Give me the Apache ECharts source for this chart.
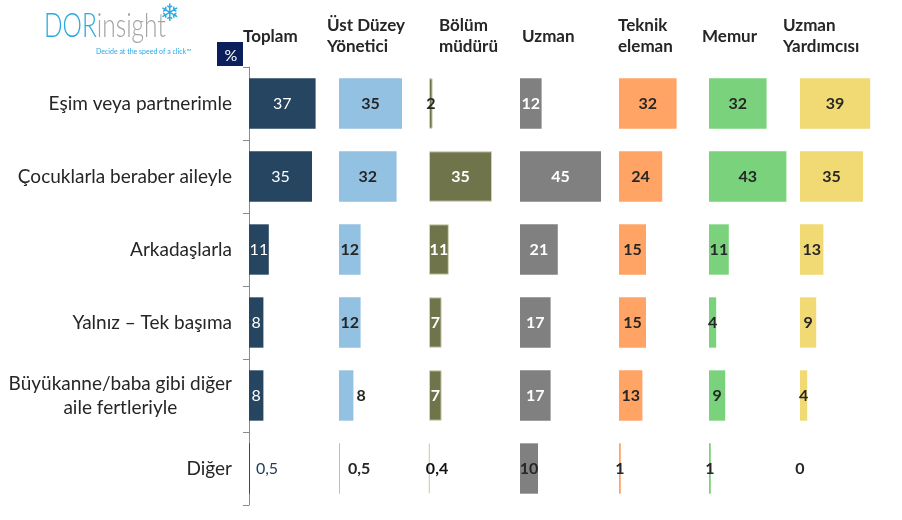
<!DOCTYPE html>
<html>
<head>
<meta charset="utf-8">
<script src="https://cdn.jsdelivr.net/npm/echarts@6/dist/echarts.min.js"></script>
<style>html,body{margin:0;padding:0;background:#fff;}#c{width:902px;height:520px;}</style>
</head>
<body>
<div id="c"></div>
<script>
// ---- data ----
const categories = ['Eşim veya partnerimle', 'Çocuklarla beraber aileyle', 'Arkadaşlarla', 'Yalnız – Tek başıma', 'Büyükanne/baba gibi diğer\naile fertleriyle', 'Diğer'];
const groups = ['Toplam', 'Üst Düzey\nYönetici', 'Bölüm\nmüdürü', 'Uzman', 'Teknik\neleman', 'Memur', 'Uzman\nYardımcısı'];
const toplam      = [37, 35, 11, 8, 8, 0.5];
const ustDuzey    = [35, 32, 12, 12, 8, 0.5];
const bolumMuduru = [2, 35, 11, 7, 7, 0.4];
const uzman       = [12, 45, 21, 17, 17, 10];
const teknik      = [32, 24, 15, 15, 13, 1];
const memur       = [32, 43, 11, 4, 9, 1];
const uzmanYrd    = [39, 35, 13, 9, 4, 0];
const values = [toplam, ustDuzey, bolumMuduru, uzman, teknik, memur, uzmanYrd];

// ---- styling / layout ----
const FONT = 'Lato';
const DARK = '#262626';
const colors = ['#254560', '#93C1E1', '#70744A', '#808080', '#FFA465', '#7AD37C', '#F1DA74'];
const borders = [null, null, '#D3D4B6', null, null, null, null];
const labelColors = ['#ffffff', DARK, '#ffffff', '#ffffff', DARK, DARK, DARK];
const gridLefts = [249, 339, 429, 520, 619, 709, 800];
const headerX = [243, 327, 439, 522, 618, 702, 783];
const labelTweaks = {
  '0,5': {position: 'right', distance: 6, color: '#1F3A55', fontWeight: 'normal'},
  '1,4': {position: 'right', distance: 3},
  '1,5': {position: 'right', distance: 8},
  '2,0': {color: DARK},
  '2,5': {position: 'right', distance: -4, color: '#111'},
  '3,5': {color: DARK}
};
const fmt = v => String(v).replace('.', ',');

const grid = [], xAxis = [], yAxis = [], series = [];
values.forEach((vals, i) => {
  grid.push({left: gridLefts[i], top: 67, width: 90, height: 438});
  xAxis.push({type: 'value', gridIndex: i, min: 0, max: 50, show: false});
  yAxis.push({
    type: 'category', gridIndex: i, data: categories, inverse: true,
    show: i === 0, offset: 1,
    axisLine: {show: true, lineStyle: {color: '#8A8A8A', width: 1}},
    axisTick: {show: true, length: 6, lineStyle: {color: '#8A8A8A'}},
    axisLabel: {
      margin: 16, color: DARK, fontFamily: FONT, fontSize: 19, lineHeight: 24,
      formatter: s => s.split('\n').map(l => '{c|' + l + '}').join('\n'),
      rich: {c: {align: 'center', fontFamily: FONT, fontSize: 19, lineHeight: 24, color: DARK}}
    }
  });
  series.push({
    type: 'bar', name: groups[i], xAxisIndex: i, yAxisIndex: i,
    barCategoryGap: '31%',
    itemStyle: borders[i] ? {color: colors[i], borderColor: borders[i], borderWidth: 1} : {color: colors[i]},
    label: {
      show: true, position: 'inside', color: labelColors[i],
      fontFamily: FONT, fontSize: 16, fontWeight: i === 0 ? 'normal' : 'bold',
      textBorderWidth: 0, formatter: p => fmt(p.value)
    },
    data: vals.map((v, j) => {
      const t = labelTweaks[i + ',' + j];
      return t ? {value: v, label: t} : v;
    }),
    animation: false
  });
});

const graphic = groups.map((g, i) => ({
  type: 'text', x: headerX[i], y: 36.5,
  style: {text: g, fill: DARK, font: 'bold 17px ' + FONT, verticalAlign: 'middle', lineHeight: 21}
}));
// logo
graphic.push({
  type: 'text', x: 44, y: 26, scaleX: 0.72,
  style: {
    text: '{a|DOR}{b|insight}', verticalAlign: 'middle',
    rich: {
      a: {fontFamily: FONT, fontSize: 34, fontWeight: 300, fill: '#2AA9E0', color: '#2AA9E0'},
      b: {fontFamily: FONT, fontSize: 34, fontWeight: 300, fill: '#A3A3A3', color: '#A3A3A3'}
    }
  }
});
graphic.push({type: 'text', x: 160, y: 15, style: {text: '❄', font: '24px "DejaVu Sans"', fill: '#2AA9E0', verticalAlign: 'middle'}});
graphic.push({type: 'text', x: 96, y: 52, style: {text: 'Decide at the speed of a click™', font: '7px ' + FONT, fill: '#2AA9E0', verticalAlign: 'middle'}});
// % box
graphic.push({type: 'rect', shape: {x: 217, y: 42, width: 26, height: 24}, style: {fill: '#0B1F5C'}});
graphic.push({type: 'text', x: 231, y: 56, style: {text: '%', font: '16px ' + FONT, fill: '#ffffff', align: 'center', verticalAlign: 'middle'}});

const chart = echarts.init(document.getElementById('c'), null, {renderer: 'canvas'});
chart.setOption({animation: false, backgroundColor: '#ffffff', grid, xAxis, yAxis, series, graphic});
</script>
</body>
</html>
